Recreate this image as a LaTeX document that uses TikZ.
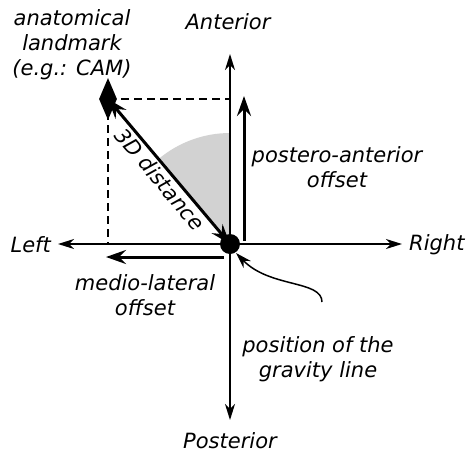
\documentclass[tikz,border=0pt]{standalone}
\usepackage{fontspec}
\setmainfont{DejaVu Sans}
\usetikzlibrary{arrows.meta,shapes.geometric,calc}
\begin{document}
\begin{tikzpicture}[x=1pt,y=-1pt,
  lbl/.style={font=\fontsize{21}{25}\selectfont\itshape, align=center, inner sep=0pt},
  axis/.style={line width=1.5pt, -{Stealth[length=16pt,width=10pt,inset=5pt]}},
  thickarr/.style={line width=3pt, -{Stealth[length=20pt,width=14pt,inset=7pt]}},
  dashline/.style={line width=1.4pt, dash pattern=on 8pt off 5pt}]
\useasboundingbox (0,0) rectangle (467,456);
\coordinate (O) at (230,244);
\coordinate (L) at (108,99);
% grey sector
\fill[gray!35] (O) -- ++(-90:111) arc[start angle=-90,end angle=-130,radius=111] -- cycle;
% axes
\coordinate (up) at (230,54);
\coordinate (down) at (230,420);
\coordinate (left) at (58,244);
\coordinate (right) at (402,244);
\draw[axis] (O) -- (up);
\draw[axis] (O) -- (down);
\draw[axis] (O) -- (left);
\draw[axis] (O) -- (right);
% dashed
\coordinate (Lx) at (230,99);
\coordinate (Ly) at (108,244);
\draw[dashline] (L) -- (Lx);
\draw[dashline] (L) -- (Ly);
% offsets
\coordinate (pa0) at (244,241);
\coordinate (pa1) at (244,96);
\draw[thickarr] (pa0) -- (pa1);
\coordinate (ml0) at (224,257);
\coordinate (ml1) at (106,257);
\draw[thickarr] (ml0) -- (ml1);
% landmark diamond
\node[diamond, fill=black, minimum width=18pt, minimum height=42pt, inner sep=0pt, aspect=0.43] (lm) at (L) {};
% 3D distance
\draw[line width=3pt, {Stealth[length=20pt,width=14pt,inset=7pt]}-{Stealth[length=20pt,width=14pt,inset=7pt]}] (lm.center) -- node[lbl, sloped, below=2pt, pos=0.5] (dl) {3D distance} (O);
% dot
\node[circle, fill=black, minimum size=20pt, inner sep=0pt] (dot) at (O) {};
% gravity curve
\coordinate (g0) at (322,302);
\draw[line width=1.5pt, -{Stealth[length=16pt,width=10pt,inset=5pt]}] (g0) .. controls (322,280) and (270,288) .. (236,253);
% labels
\node[lbl] (ant) at (228,22) {Anterior};
\node[lbl] (post) at (230,441) {Posterior};
\node[lbl, anchor=east] (lft) at (51,245) {Left};
\node[lbl, anchor=west] (rgt) at (409,245) {Right};
\node[lbl] (lmk) at (72,45) {anatomical\\landmark\\(e.g.: CAM)};
\node[lbl] (pao) at (337,167) {postero-anterior\\offset};
\node[lbl] (mlo) at (145,295) {medio-lateral\\offset};
\node[lbl] (grav) at (318,359) {position of the\\gravity line};
\end{tikzpicture}
\end{document}
